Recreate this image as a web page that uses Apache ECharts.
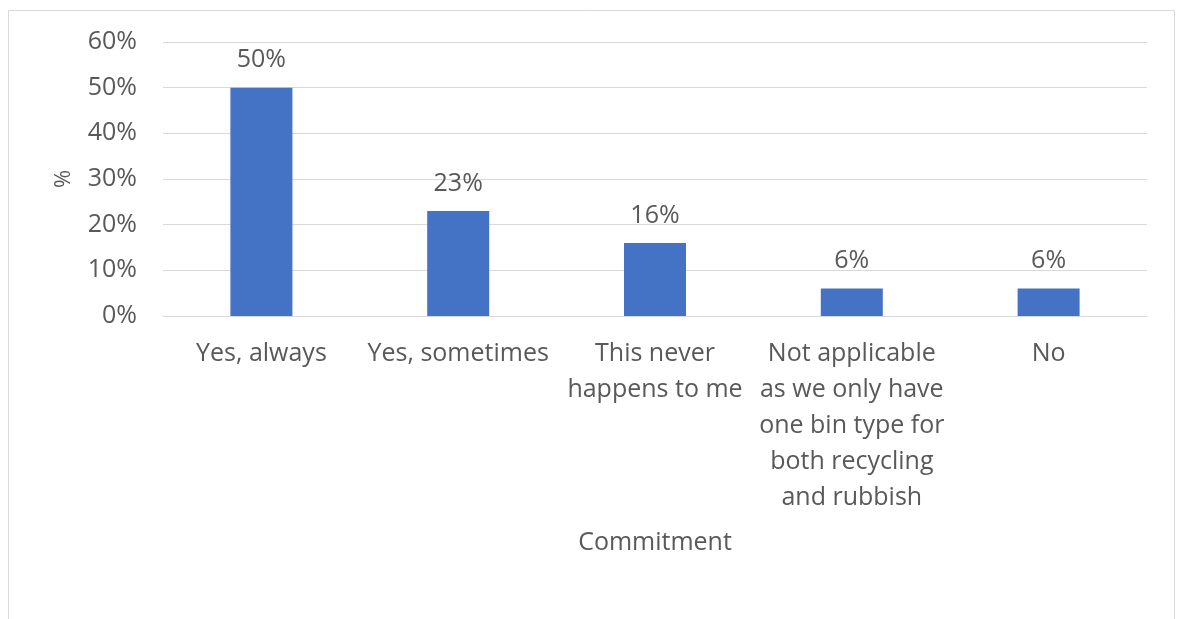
<!DOCTYPE html>
<html>
<head>
<meta charset="utf-8">
<script src="https://cdn.jsdelivr.net/npm/echarts@6/dist/echarts.min.js"></script>
<style>
  html, body { margin: 0; padding: 0; background: #ffffff; }
  #chart { width: 1181px; height: 619px; }
</style>
</head>
<body>
<div id="chart"></div>
<script>
// Survey answers and their shares (percent)
const categories = [
  'Yes, always',
  'Yes, sometimes',
  'This never\nhappens to me',
  'Not applicable\nas we only have\none bin type for\nboth recycling\nand rubbish',
  'No'
];
const values = [50, 23, 16, 6, 6];
const yTicks = [0, 10, 20, 30, 40, 50, 60];

const textColor = '#595959';
const font = 'Open Sans';
const fs = 25;

const chart = echarts.init(document.getElementById('chart'));
chart.setOption({
  backgroundColor: '#ffffff',
  animation: false,
  graphic: [{
    type: 'rect',
    shape: { x: 8.5, y: 10.5, width: 1166, height: 640 },
    style: { fill: 'none', stroke: '#d9d9d9', lineWidth: 1 },
    silent: true
  }],
  grid: { left: 163, right: 34, top: 42, bottom: 303 },
  xAxis: {
    type: 'category',
    data: categories,
    name: 'Commitment',
    nameLocation: 'middle',
    nameGap: 214,
    nameTextStyle: { color: textColor, fontSize: fs, fontFamily: font },
    axisLine: { lineStyle: { color: '#d9d9d9', width: 1 } },
    axisTick: { show: false },
    axisLabel: {
      color: textColor, fontSize: fs, fontFamily: font,
      lineHeight: 36, margin: 20, interval: 0
    }
  },
  yAxis: {
    type: 'value',
    min: yTicks[0],
    max: yTicks[yTicks.length - 1],
    interval: 10,
    name: '%',
    nameLocation: 'middle',
    nameGap: 88,
    nameRotate: 90,
    nameTextStyle: { color: textColor, fontSize: 22, fontFamily: font },
    axisLine: { show: false },
    axisTick: { show: false },
    splitLine: { lineStyle: { color: '#d9d9d9', width: 1 } },
    axisLabel: {
      color: textColor, fontSize: fs, fontFamily: font, margin: 26,
      formatter: v => v + '%'
    }
  },
  series: [{
    type: 'bar',
    data: values,
    barWidth: 62,
    itemStyle: { color: '#4472c4' },
    label: {
      show: true,
      position: 'top',
      distance: 15,
      color: textColor,
      fontSize: fs,
      fontFamily: font,
      formatter: p => p.value + '%'
    }
  }]
});
</script>
</body>
</html>
